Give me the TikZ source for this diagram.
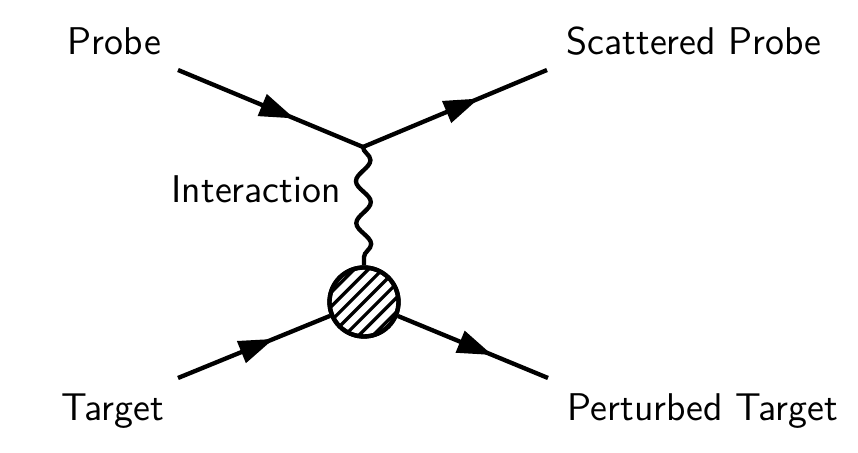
\documentclass[tikz,border=0pt]{standalone}
\usetikzlibrary{arrows.meta,decorations.markings,decorations.pathmorphing}
\begin{document}
\begin{tikzpicture}[x=0.3pt,y=-0.3pt,
  every node/.style={font=\sffamily\fontsize{11.6}{14}\selectfont,inner sep=0pt},
  lbl/.style={anchor=base west},
  fermion/.style={line width=1.3pt,postaction={decorate},
    decoration={markings,mark=at position 0.63 with {\arrow{Triangle[length=10.5pt,width=6.8pt]}}}},
  boson/.style={line width=1.3pt,decorate,
    decoration={snake,segment length=12.6pt,amplitude=2.2pt}},
  blobstyle/.style={circle,draw,line width=1.3pt,minimum size=20.7pt},
  hatch/.style={line width=1pt}]
\useasboundingbox (0,0) rectangle (858,453);
\coordinate (pa) at (178,70);
\coordinate (v) at (363,147);
\coordinate (sb) at (547,70);
\coordinate (ta) at (178,378);
\coordinate (pb) at (548,378);
\node[blobstyle] (blob) at (364,302) {};
\begin{scope}
  \clip (blob.center) circle (34.5);
  \foreach \k in {-3,...,3}
    \draw[hatch] ([shift={(7.07*\k-50,7.07*\k+50)}]blob.center) -- ([shift={(7.07*\k+50,7.07*\k-50)}]blob.center);
\end{scope}
\node[blobstyle] at (blob.center) {};
\draw[fermion] (pa) -- (v);
\draw[fermion] (v) -- (sb);
\draw[boson] (v) -- (blob.north);
\draw[fermion] (ta) -- (blob);
\draw[fermion] (blob) -- (pb);
\node[lbl] (probe) at (67,55) {Probe};
\node[lbl] (scat) at (566,55) {Scattered Probe};
\node[lbl] (inter) at (171,203) {Interaction};
\node[lbl] (targ) at (61,421) {Target};
\node[lbl] (pert) at (567,421) {Perturbed Target};
\end{tikzpicture}
\end{document}
